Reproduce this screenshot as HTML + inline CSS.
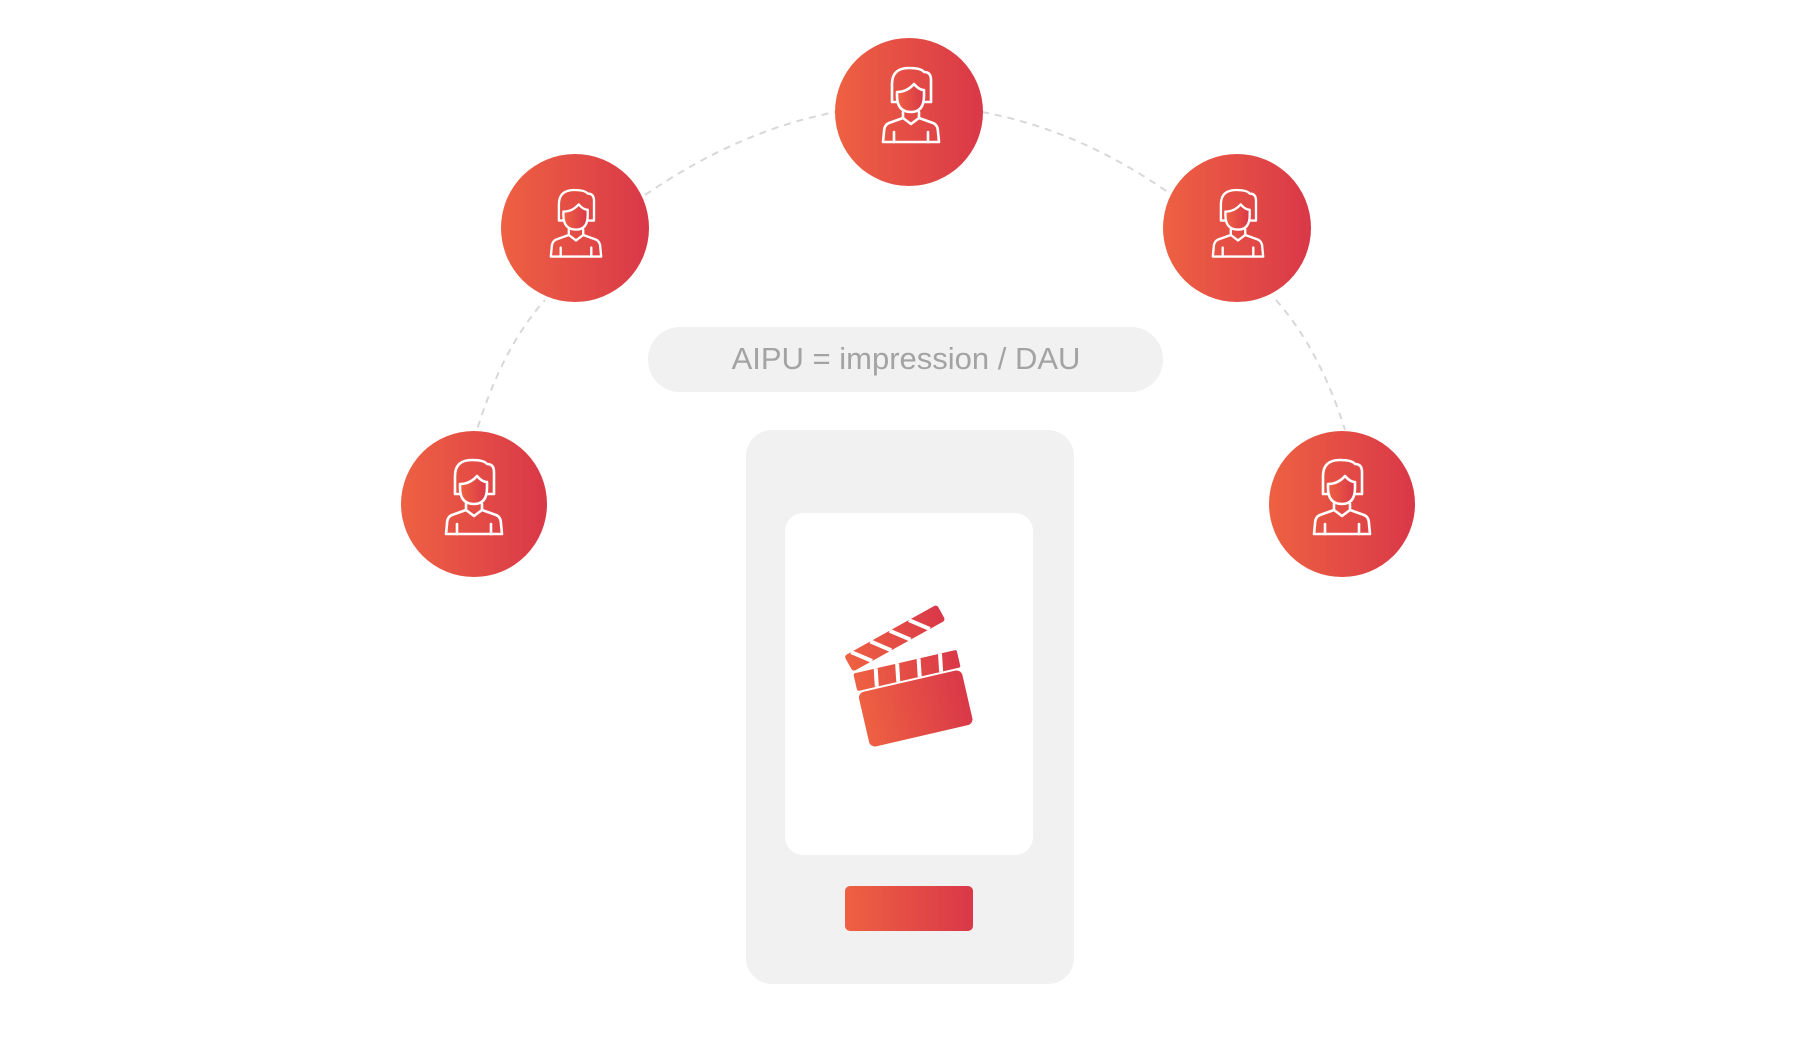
<!DOCTYPE html>
<html><head><meta charset="utf-8"><style>
html,body{margin:0;padding:0;background:#fff;}
body{width:1820px;height:1038px;position:relative;overflow:hidden;font-family:"Liberation Sans",sans-serif;}
</style></head><body>
<svg width="1820" height="1038" viewBox="0 0 1820 1038" style="position:absolute;left:0;top:0">
<defs>
<linearGradient id="g" x1="0" y1="0" x2="1" y2="0">
<stop offset="0" stop-color="#ee6142"/><stop offset="1" stop-color="#d93848"/>
</linearGradient>
<g id="p" fill="none" stroke="#fff" stroke-width="2.6" stroke-linecap="round" stroke-linejoin="round">
<path d="M-19,-6 V-24 Q-19,-40 -2,-40 Q10,-40 13,-36 Q20,-36 20,-28 V-6 H-19 Z"/>
<path d="M-14,-16 Q-4,-16 3,-24 Q8,-18 13,-18 V-12 Q13,4 0,4 Q-14,4 -14,-12 Z" fill="url(#g)"/>
<path d="M-8,4 V10 L0,16 L8,10 V4"/>
<path d="M-8,10 L-22,15 Q-27,17 -27,24 L-28,34 H28 L27,24 Q27,17 22,15 L8,10"/>
<path d="M-17,34 V24 M17,34 V24"/>
</g>
</defs>
<g fill="none" stroke="#d8d8d8" stroke-width="2" stroke-dasharray="7 6">
<path d="M474,440 Q500,350 545,300"/>
<path d="M645,195 Q740,130 836,112"/>
<path d="M982,112 Q1080,130 1172,195"/>
<path d="M1276,300 Q1320,350 1345,430"/>
</g>
<rect x="648" y="327" width="515" height="65" rx="32" fill="#f1f1f1"/>
<text x="906" y="369" text-anchor="middle" font-family="Liberation Sans, sans-serif" font-size="31" fill="#a3a3a3">AIPU = impression / DAU</text>
<rect x="746" y="430" width="328" height="554" rx="26" fill="#f1f1f1"/>
<rect x="785" y="513" width="248" height="342" rx="18" fill="#fff"/>
<rect x="845" y="886" width="128" height="45" rx="5" fill="url(#g)"/>
<g transform="translate(911,688) rotate(-13)" fill="url(#g)">
<rect x="-53" y="-7" width="106" height="56" rx="6"/>
<rect x="-53" y="-27" width="106" height="18" rx="2"/>
<g transform="translate(-53,-29) rotate(-16)">
<rect x="0" y="-18" width="106" height="18" rx="3"/>
<g stroke="#fff" stroke-width="4">
<line x1="8" y1="-18" x2="22" y2="0"/><line x1="30" y1="-18" x2="44" y2="0"/><line x1="52" y1="-18" x2="66" y2="0"/><line x1="74" y1="-18" x2="88" y2="0"/>
</g>
</g>
<g stroke="#fff" stroke-width="4">
<line x1="-30" y1="-27" x2="-33" y2="-9"/><line x1="-8" y1="-27" x2="-11" y2="-9"/><line x1="14" y1="-27" x2="11" y2="-9"/><line x1="36" y1="-27" x2="33" y2="-9"/>
</g>
</g>
<g>
<circle cx="909" cy="112" r="74" fill="url(#g)"/><use href="#p" transform="translate(911,108)"/>
<circle cx="575" cy="228" r="74" fill="url(#g)"/><use href="#p" transform="translate(576,226) scale(0.9)"/>
<circle cx="1237" cy="228" r="74" fill="url(#g)"/><use href="#p" transform="translate(1238,226) scale(0.9)"/>
<circle cx="474" cy="504" r="73" fill="url(#g)"/><use href="#p" transform="translate(474,500)"/>
<circle cx="1342" cy="504" r="73" fill="url(#g)"/><use href="#p" transform="translate(1342,500)"/>
</g>
</svg>
</body></html>
